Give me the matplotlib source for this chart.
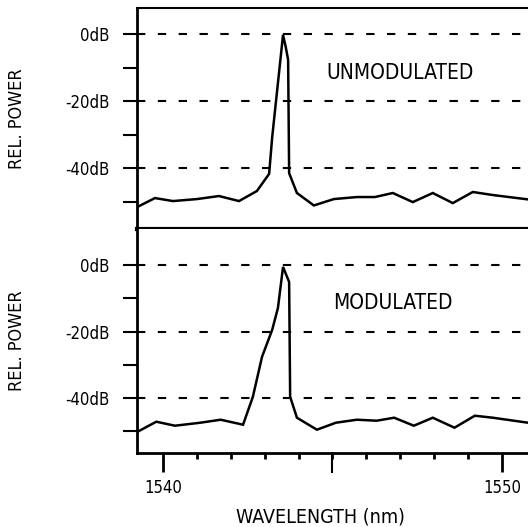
import numpy as np
import matplotlib.pyplot as plt
from matplotlib.ticker import FixedLocator, MultipleLocator

plt.rcParams['font.family'] = ['DejaVu Sans']
plt.rcParams['font.stretch'] = 'condensed'

# upper panel: unmodulated spectrum (nm, dB)
wl_unmod = [1539.23, 1539.76, 1540.29, 1541.0, 1541.65, 1542.24, 1542.77, 1543.13,
            1543.22, 1543.54, 1543.62, 1543.69, 1543.72, 1543.95, 1544.45, 1545.04,
            1545.72, 1546.25, 1546.78, 1547.37, 1547.96, 1548.55, 1549.14, 1549.73, 1550.77]
pw_unmod = [-51.5, -48.8, -49.7, -49.1, -48.2, -49.7, -46.7, -41.6,
            -30.7, -0.3, -3.9, -7.7, -41.4, -47.3, -51.0, -49.1,
            -48.5, -48.5, -47.3, -50.0, -47.3, -50.3, -47.0, -47.9, -49.2]

# lower panel: modulated spectrum (nm, dB)
wl_mod = [1539.23, 1539.8, 1540.35, 1541.1, 1541.7, 1542.36, 1542.65, 1542.92,
          1543.22, 1543.39, 1543.54, 1543.72, 1543.75, 1543.95, 1544.54, 1545.1,
          1545.72, 1546.3, 1546.82, 1547.4, 1547.96, 1548.6, 1549.2, 1549.73, 1550.77]
pw_mod = [-50.2, -47.1, -48.3, -47.4, -46.5, -48.0, -39.6, -27.6,
          -19.5, -12.9, -0.6, -5.1, -39.6, -45.9, -49.5, -47.4,
          -46.5, -46.8, -45.9, -48.3, -45.9, -48.9, -45.3, -45.9, -47.4]

grid_db = [0, -20, -40]
ytick_labels = ['0dB', '-20dB', '-40dB']
xtick_major = [1540, 1550]

fig = plt.figure(figsize=(5.28, 5.27), dpi=100)
ax1 = fig.add_axes([137/528, 1-229/527, 391/528, 221/527])
ax2 = fig.add_axes([137/528, 1-453/527, 391/528, 224/527])

dash = (4.0, 6.0)
for ax, wl, pw, ylim, label, lpos in [
        (ax1, wl_unmod, pw_unmod, (-58.0, 7.7), 'UNMODULATED', (1547.0, -11.6)),
        (ax2, wl_mod, pw_mod, (-56.5, 10.8), 'MODULATED', (1546.77, -11.4))]:
    ax.plot(wl, pw, color='black', lw=1.8, solid_joinstyle='miter')
    for g in grid_db:
        ax.axhline(g, color='black', lw=1.5, dashes=dash)
    ax.set_xlim(1539.23, 1550.77)
    ax.set_ylim(*ylim)
    ax.yaxis.set_major_locator(FixedLocator(grid_db))
    ax.set_yticklabels(ytick_labels)
    ax.yaxis.set_minor_locator(FixedLocator([-10, -30, -50]))
    ax.tick_params(axis='y', which='both', direction='out', length=10, width=1.5,
                   labelsize=12, pad=10)
    ax.spines['right'].set_visible(False)
    ax.spines['left'].set_linewidth(2.0)
    ax.set_ylabel('REL. POWER', fontsize=13)
    ax.yaxis.set_label_coords(-0.284, 0.5)
    ax.text(lpos[0], lpos[1], label, ha='center', va='center', fontsize=15)

ax1.spines['top'].set_linewidth(1.5)
ax1.spines['bottom'].set_linewidth(3.0)
ax1.tick_params(axis='x', which='both', bottom=False, labelbottom=False)
ax2.spines['top'].set_visible(False)
ax2.spines['bottom'].set_linewidth(2.0)

ax2.xaxis.set_major_locator(FixedLocator(xtick_major))
ax2.xaxis.set_minor_locator(MultipleLocator(1))
ax2.tick_params(axis='x', which='major', direction='out', length=14, width=2,
                labelsize=12, pad=5)
ax2.tick_params(axis='x', which='minor', direction='out', length=4, width=2)
ax2.set_xlabel('WAVELENGTH (nm)', fontsize=14)
ax2.xaxis.set_label_coords(0.47, -0.245)

# 1545 tick is drawn longer in the original
ax2.plot([1545, 1545], [0, -0.085], transform=ax2.get_xaxis_transform(),
         color='black', lw=1.5, clip_on=False)

fig.savefig('out.png', dpi=100)
